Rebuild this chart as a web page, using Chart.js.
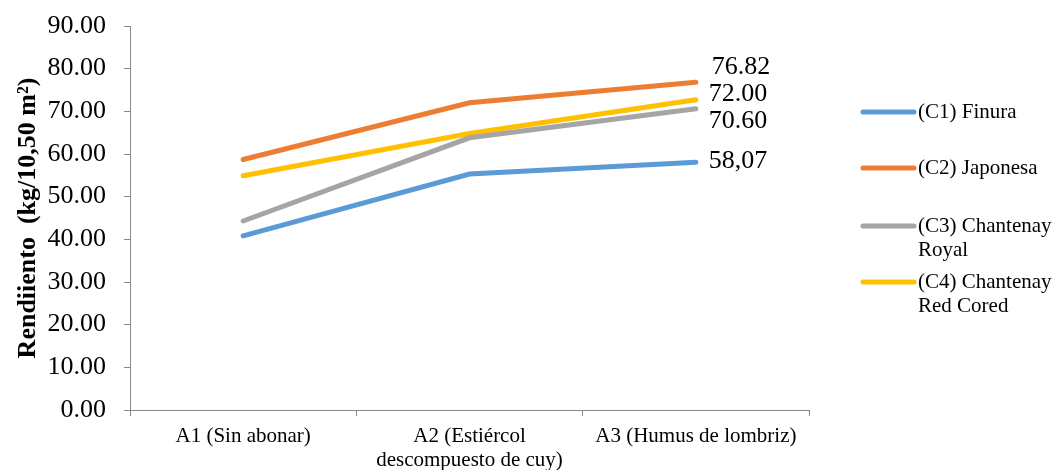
<!DOCTYPE html>
<html><head><meta charset="utf-8">
<script src="https://cdn.jsdelivr.net/npm/chart.js@4/dist/chart.umd.min.js"></script>
<style>html,body{margin:0;padding:0;background:#fff}#wrap{width:1057px;height:470px}</style>
</head><body><div id="wrap"><canvas id="c" width="1057" height="470"></canvas></div>
<script>
const categories = [["A1 (Sin abonar)"], ["A2 (Estiércol", "descompuesto de cuy)"], ["A3 (Humus de lombriz)"]];
const seriesNames = [["(C1) Finura"], ["(C2) Japonesa"], ["(C3) Chantenay", "Royal"], ["(C4) Chantenay", "Red Cored"]];
const finura = [40.8, 55.3, 58.07];
const japonesa = [58.7, 72.0, 76.82];
const chantenayRoyal = [44.3, 63.8, 70.6];
const chantenayRed = [54.9, 64.8, 72.7];
const endLabels = ["58,07", "76.82", "70.60", "72.00"];
const colors = ["#5B9BD5", "#ED7D31", "#A5A5A5", "#FFC000"];
const yTicks = [0, 10, 20, 30, 40, 50, 60, 70, 80, 90];

const serif = "'Liberation Serif', 'Times New Roman', serif";
const labelOffsets = [[13, -1], [16, -15], [13, 12], [13, -6]];

const endLabelPlugin = {
  id: 'endLabels',
  afterDatasetsDraw(chart) {
    const ctx = chart.ctx;
    ctx.save();
    ctx.font = "26px " + serif;
    ctx.fillStyle = "#000";
    ctx.textBaseline = "middle";
    ctx.textAlign = "left";
    chart.data.datasets.forEach((ds, i) => {
      const meta = chart.getDatasetMeta(i);
      const p = meta.data[meta.data.length - 1];
      ctx.fillText(endLabels[i], p.x + labelOffsets[i][0], p.y + labelOffsets[i][1]);
    });
    ctx.restore();
  }
};

const legendPlugin = {
  id: 'customLegend',
  afterDraw(chart) {
    const ctx = chart.ctx;
    ctx.save();
    const ys = [112, 168, 226, 282];
    ctx.font = "21px " + serif;
    ctx.textBaseline = "middle";
    ctx.fillStyle = "#000";
    seriesNames.forEach((lines, i) => {
      const y = ys[i];
      ctx.strokeStyle = colors[i];
      ctx.lineWidth = 5;
      ctx.lineCap = "round";
      ctx.beginPath();
      ctx.moveTo(863, y);
      ctx.lineTo(914, y);
      ctx.stroke();
      lines.forEach((t, k) => ctx.fillText(t, 918, y + k * 24));
    });
    ctx.restore();
  }
};

const seriesData = [finura, japonesa, chantenayRoyal, chantenayRed];

new Chart(document.getElementById('c'), {
  type: 'line',
  data: {
    labels: categories,
    datasets: seriesData.map((d, i) => ({
      label: seriesNames[i].join(' '),
      data: d,
      borderColor: colors[i],
      backgroundColor: colors[i],
      borderWidth: 5,
      borderCapStyle: 'round',
      borderJoinStyle: 'miter',
      pointRadius: 0,
      tension: 0,
      fill: false
    }))
  },
  options: {
    responsive: false,
    animation: false,
    layout: { padding: { top: 26, right: 248, left: 13, bottom: 0 } },
    plugins: { legend: { display: false }, tooltip: { enabled: false } },
    scales: {
      x: {
        offset: true,
        grid: { display: true, drawOnChartArea: false, drawTicks: true, tickLength: 6, offset: true, color: '#888' },
        border: { color: '#888', width: 1 },
        ticks: { color: '#000', font: { family: serif, size: 21, lineHeight: 1.15 }, maxRotation: 0, padding: 8 },
        afterFit(s) { s.height = 60; s.paddingLeft = 0; s.paddingRight = 0; }
      },
      y: {
        min: 0, max: 90,
        afterBuildTicks(s) { s.ticks = yTicks.map(v => ({ value: v })); },
        grid: { display: true, drawOnChartArea: false, drawTicks: true, tickLength: 6, color: '#888' },
        border: { color: '#888', width: 1 },
        ticks: { color: '#000', font: { family: serif, size: 26 }, padding: 18, callback: v => Number(v).toFixed(2) },
        title: { display: true, text: 'Rendiiento  (kg/10,50 m²)', color: '#000', font: { family: serif, size: 26, weight: 'bold' }, padding: 0 },
        afterFit(s) { s.width = 117; s.paddingTop = 0; s.paddingBottom = 0; }
      }
    }
  },
  plugins: [endLabelPlugin, legendPlugin]
});
</script></body></html>
